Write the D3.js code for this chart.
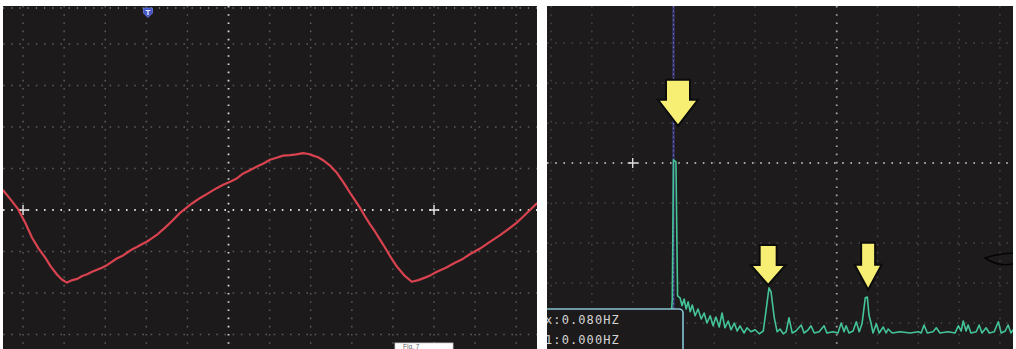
<!DOCTYPE html>
<html>
<head>
<meta charset="utf-8">
<script src="https://cdn.jsdelivr.net/npm/d3@7"></script>
<style>
  html, body { margin: 0; padding: 0; background: #ffffff; }
  svg { display: block; }
</style>
</head>
<body>
<svg id="scope" width="1016" height="349"></svg>
<script>
// ---- Time-domain capture (units: screen divisions) ----
const waveT = [-0.49,-0.30,-0.12,0.05,0.22,0.38,0.54,0.68,0.83,0.95,1.07,1.20,1.32,1.44,1.56,1.68,1.80,1.92,2.04,2.16,2.28,2.41,2.53,2.65,2.77,2.90,3.02,3.14,3.28,3.45,3.62,3.82,3.95,4.10,4.31,4.50,4.70,4.87,5.04,5.20,5.36,5.52,5.68,5.85,6.01,6.17,6.33,6.50,6.65,6.81,6.95,7.06,7.18,7.30,7.47,7.64,7.80,7.96,8.08,8.20,8.32,8.44,8.57,8.69,8.81,8.93,9.10,9.29,9.46,9.62,9.78,9.92,10.07,10.29,10.51,10.70,10.88,11.12,11.36,11.60,11.85,12.03,12.21,12.51];
const waveV = [0.48,0.25,0.02,-0.30,-0.67,-0.93,-1.15,-1.37,-1.56,-1.68,-1.75,-1.69,-1.66,-1.59,-1.55,-1.49,-1.44,-1.39,-1.33,-1.25,-1.17,-1.11,-1.03,-0.95,-0.89,-0.82,-0.76,-0.68,-0.58,-0.43,-0.27,-0.07,0.03,0.15,0.29,0.40,0.52,0.61,0.68,0.76,0.88,0.96,1.04,1.12,1.21,1.26,1.31,1.32,1.34,1.37,1.35,1.31,1.27,1.20,1.07,0.89,0.66,0.41,0.23,0.05,-0.15,-0.34,-0.53,-0.72,-0.91,-1.11,-1.37,-1.59,-1.73,-1.69,-1.63,-1.57,-1.49,-1.39,-1.27,-1.18,-1.06,-0.93,-0.77,-0.61,-0.43,-0.29,-0.12,0.17];

// ---- FFT spectrum (units: screen divisions) ----
const specF = [0.22,0.71,1.20,1.69,2.18,2.67,2.92,2.97,3.00,3.06,3.10,3.16,3.21,3.26,3.31,3.36,3.41,3.46,3.53,3.60,3.68,3.75,3.82,3.90,3.97,4.04,4.12,4.19,4.26,4.34,4.41,4.49,4.56,4.63,4.73,4.80,4.90,5.00,5.10,5.20,5.27,5.34,5.39,5.47,5.54,5.61,5.69,5.76,5.83,5.91,6.00,6.13,6.20,6.30,6.37,6.45,6.57,6.69,6.76,6.91,7.03,7.11,7.18,7.23,7.30,7.40,7.48,7.55,7.62,7.70,7.75,7.79,7.84,7.89,7.97,8.04,8.14,8.21,8.26,8.36,8.55,8.80,9.00,9.07,9.14,9.22,9.36,9.44,9.53,9.73,9.90,9.98,10.05,10.10,10.17,10.22,10.29,10.42,10.49,10.56,10.66,10.74,10.86,10.96,11.03,11.13,11.20,11.27,11.32];
const specA = [0.25,0.28,0.25,0.30,0.25,0.28,0.33,1.08,4.58,4.53,1.18,1.13,0.93,1.10,0.85,1.03,0.78,0.95,0.68,0.85,0.60,0.75,0.50,0.68,0.43,0.65,0.40,0.75,0.38,0.55,0.33,0.50,0.30,0.43,0.25,0.38,0.28,0.33,0.23,0.30,0.83,1.38,1.28,0.63,0.28,0.35,0.23,0.28,0.63,0.25,0.30,0.45,0.25,0.33,0.43,0.25,0.28,0.43,0.25,0.28,0.25,0.50,0.28,0.43,0.25,0.30,0.53,0.28,0.48,1.13,1.15,0.70,0.50,0.25,0.48,0.25,0.40,0.25,0.35,0.25,0.28,0.25,0.28,0.25,0.45,0.25,0.28,0.38,0.25,0.28,0.25,0.43,0.30,0.55,0.30,0.45,0.25,0.28,0.45,0.25,0.38,0.25,0.28,0.53,0.25,0.30,0.45,0.25,0.33];

// Marked harmonics: frequency and arrow-tip level
const peakF   = [3.11, 5.32, 7.77];
const peakTip = [5.43, 1.45, 1.33];

// Cursor readout
const readoutLines = ["x:0.080HZ", "1:0.000HZ"];

const svg = d3.select("#scope");

// ================= Left panel: time domain =================
const L = { x0: 3, x1: 537, y0: 6, y1: 349 };
const xT = d3.scaleLinear().domain([-0.5, 12.5]).range([2.5, 536.75]);
const yV = d3.scaleLinear().domain([-3.35, 4.9]).range([349, 6.65]);

svg.append("defs").call(d => {
  d.append("clipPath").attr("id", "clipL")
    .append("rect").attr("x", L.x0).attr("y", L.y0).attr("width", L.x1 - L.x0).attr("height", L.y1 - L.y0);
  d.append("clipPath").attr("id", "clipR")
    .append("rect").attr("x", 547).attr("y", 6).attr("width", 466).attr("height", 343);
});

const gL = svg.append("g").attr("clip-path", "url(#clipL)");
gL.append("rect").attr("x", L.x0).attr("y", L.y0).attr("width", L.x1 - L.x0).attr("height", L.y1 - L.y0)
  .attr("fill", "#1c1a1b");

// dotted graticule
const dimDots = "1.6 6.6";
gL.selectAll("line.vgrid").data(d3.range(0, 13)).join("line")
  .attr("x1", d => xT(d)).attr("x2", d => xT(d)).attr("y1", L.y0).attr("y2", L.y1)
  .attr("stroke", d => d === 5 ? "#d8d8d8" : "#5c5a5a")
  .attr("stroke-width", d => d === 5 ? 1.8 : 1.5)
  .attr("stroke-dasharray", dimDots);
gL.selectAll("line.hgrid").data(d3.range(-3, 5)).join("line")
  .attr("x1", L.x0).attr("x2", L.x1).attr("y1", d => yV(d)).attr("y2", d => yV(d))
  .attr("stroke", d => d === 0 ? "#d8d8d8" : "#5c5a5a")
  .attr("stroke-width", d => d === 0 ? 1.8 : 1.5)
  .attr("stroke-dasharray", dimDots);
// top edge ticks
gL.append("line").attr("x1", L.x0).attr("x2", L.x1).attr("y1", 8).attr("y2", 8)
  .attr("stroke", "#6a6868").attr("stroke-width", 2).attr("stroke-dasharray", "1.2 7");

// centre crosses
[[0, 0], [10, 0]].forEach(([t, v]) => {
  const cx = xT(t), cy = yV(v);
  gL.append("path").attr("d", `M${cx - 5},${cy}H${cx + 5}M${cx},${cy - 5}V${cy + 5}`)
    .attr("stroke", "#e6e6e6").attr("stroke-width", 1.4);
});

// trigger marker
const tx = xT(3.04);
gL.append("path")
  .attr("d", `M${tx - 4.5},8 H${tx + 4.5} V13 L${tx},17.5 L${tx - 4.5},13 Z`)
  .attr("fill", "#4254c4").attr("stroke", "#6f7de0").attr("stroke-width", 0.8);
gL.append("text").attr("x", tx).attr("y", 14.5).attr("text-anchor", "middle")
  .attr("font-family", "DejaVu Sans").attr("font-size", 7).attr("font-weight", "bold")
  .attr("fill", "#dfe4ff").text("T");

// red voltage trace
const wave = waveT.map((t, i) => [t, waveV[i]]);
gL.append("path").datum(wave)
  .attr("d", d3.line().x(d => xT(d[0])).y(d => yV(d[1])))
  .attr("fill", "none").attr("stroke", "#d9434f").attr("stroke-width", 2.2)
  .attr("stroke-linejoin", "round");

// caption tab at the bottom edge
gL.append("rect").attr("x", 395).attr("y", 343).attr("width", 58).attr("height", 12)
  .attr("fill", "#ffffff").attr("stroke", "#cfcfcf").attr("stroke-width", 0.8);
gL.append("text").attr("x", 403).attr("y", 348.6)
  .attr("font-family", "Liberation Sans").attr("font-size", 6.5).attr("fill", "#666")
  .text("Fig. 7");

// ================= Right panel: FFT =================
const xF = d3.scaleLinear().domain([-0.1, 11.32]).range([547, 1013]);
const yA = d3.scaleLinear().domain([-0.15, 8.425]).range([349, 6]);

const gR = svg.append("g").attr("clip-path", "url(#clipR)");
gR.append("rect").attr("x", 547).attr("y", 6).attr("width", 466).attr("height", 343).attr("fill", "#1d1b1c");

gR.selectAll("line.vgrid").data(d3.range(0, 12)).join("line")
  .attr("x1", d => xF(d)).attr("x2", d => xF(d)).attr("y1", 6).attr("y2", 349)
  .attr("stroke", d => d === 7 ? "#a8a6a6" : "#474545")
  .attr("stroke-width", d => d === 7 ? 1.8 : 1.5)
  .attr("stroke-dasharray", dimDots);
gR.selectAll("line.hgrid").data(d3.range(0.5, 8.5, 1)).join("line")
  .attr("x1", 547).attr("x2", 1013).attr("y1", d => yA(d)).attr("y2", d => yA(d))
  .attr("stroke", d => d === 4.5 ? "#a8a6a6" : "#474545")
  .attr("stroke-width", d => d === 4.5 ? 1.8 : 1.5)
  .attr("stroke-dasharray", dimDots);

// cross on centre line
{
  const cx = xF(2), cy = yA(4.5);
  gR.append("path").attr("d", `M${cx - 5},${cy}H${cx + 5}M${cx},${cy - 5}V${cy + 5}`)
    .attr("stroke", "#dcdcdc").attr("stroke-width", 1.4);
}

// frequency cursor
gR.append("line").attr("x1", xF(3)).attr("x2", xF(3)).attr("y1", 6).attr("y2", 349)
  .attr("stroke", "#34326a").attr("stroke-width", 2.4);
gR.append("line").attr("x1", xF(3)).attr("x2", xF(3)).attr("y1", 6).attr("y2", 349)
  .attr("stroke", "#7672b4").attr("stroke-width", 1.1).attr("stroke-dasharray", "1.5 3");

// spectrum trace
const spec = specF.map((f, i) => [f, specA[i]]);
gR.append("path").datum(spec)
  .attr("d", d3.line().x(d => xF(d[0])).y(d => yA(d[1])))
  .attr("fill", "none").attr("stroke", "#44c497").attr("stroke-width", 1.6)
  .attr("stroke-linejoin", "round");

// arrows marking the fundamental and harmonics
const arrowSize = [
  { h: 46, shaft: 24, head: 40, headLen: 26 },
  { h: 40, shaft: 17, head: 35, headLen: 20 },
  { h: 47, shaft: 14, head: 27, headLen: 25 }
];
peakF.forEach((f, i) => {
  const s = arrowSize[i];
  const cx = xF(f), tip = yA(peakTip[i]), top = tip - s.h, hb = tip - s.headLen;
  const p = `M${cx - s.shaft / 2},${top} H${cx + s.shaft / 2} V${hb} H${cx + s.head / 2} L${cx},${tip} L${cx - s.head / 2},${hb} H${cx - s.shaft / 2} Z`;
  gR.append("path").attr("d", p).attr("fill", "#f7ef74")
    .attr("stroke", "#0c0c0c").attr("stroke-width", 2).attr("stroke-linejoin", "miter");
});

// hand-drawn mark at the right edge
gR.append("path").attr("d", "M1013,253 Q996,254 985,258 Q998,267 1013,264")
  .attr("fill", "none").attr("stroke", "#050505").attr("stroke-width", 1.6);

// readout box
gR.append("rect").attr("x", 540).attr("y", 309).attr("width", 143).attr("height", 60).attr("rx", 4)
  .attr("fill", "#1c1a1b").attr("stroke", "#86c4d4").attr("stroke-width", 1.6);
gR.selectAll("text.readout").data(readoutLines).join("text")
  .attr("x", 545).attr("y", (d, i) => 324 + i * 20)
  .attr("font-family", "DejaVu Sans Mono").attr("font-size", 12)
  .attr("letter-spacing", 1.1).attr("fill", "#d4d4d4")
  .text(d => d);
</script>
</body>
</html>
